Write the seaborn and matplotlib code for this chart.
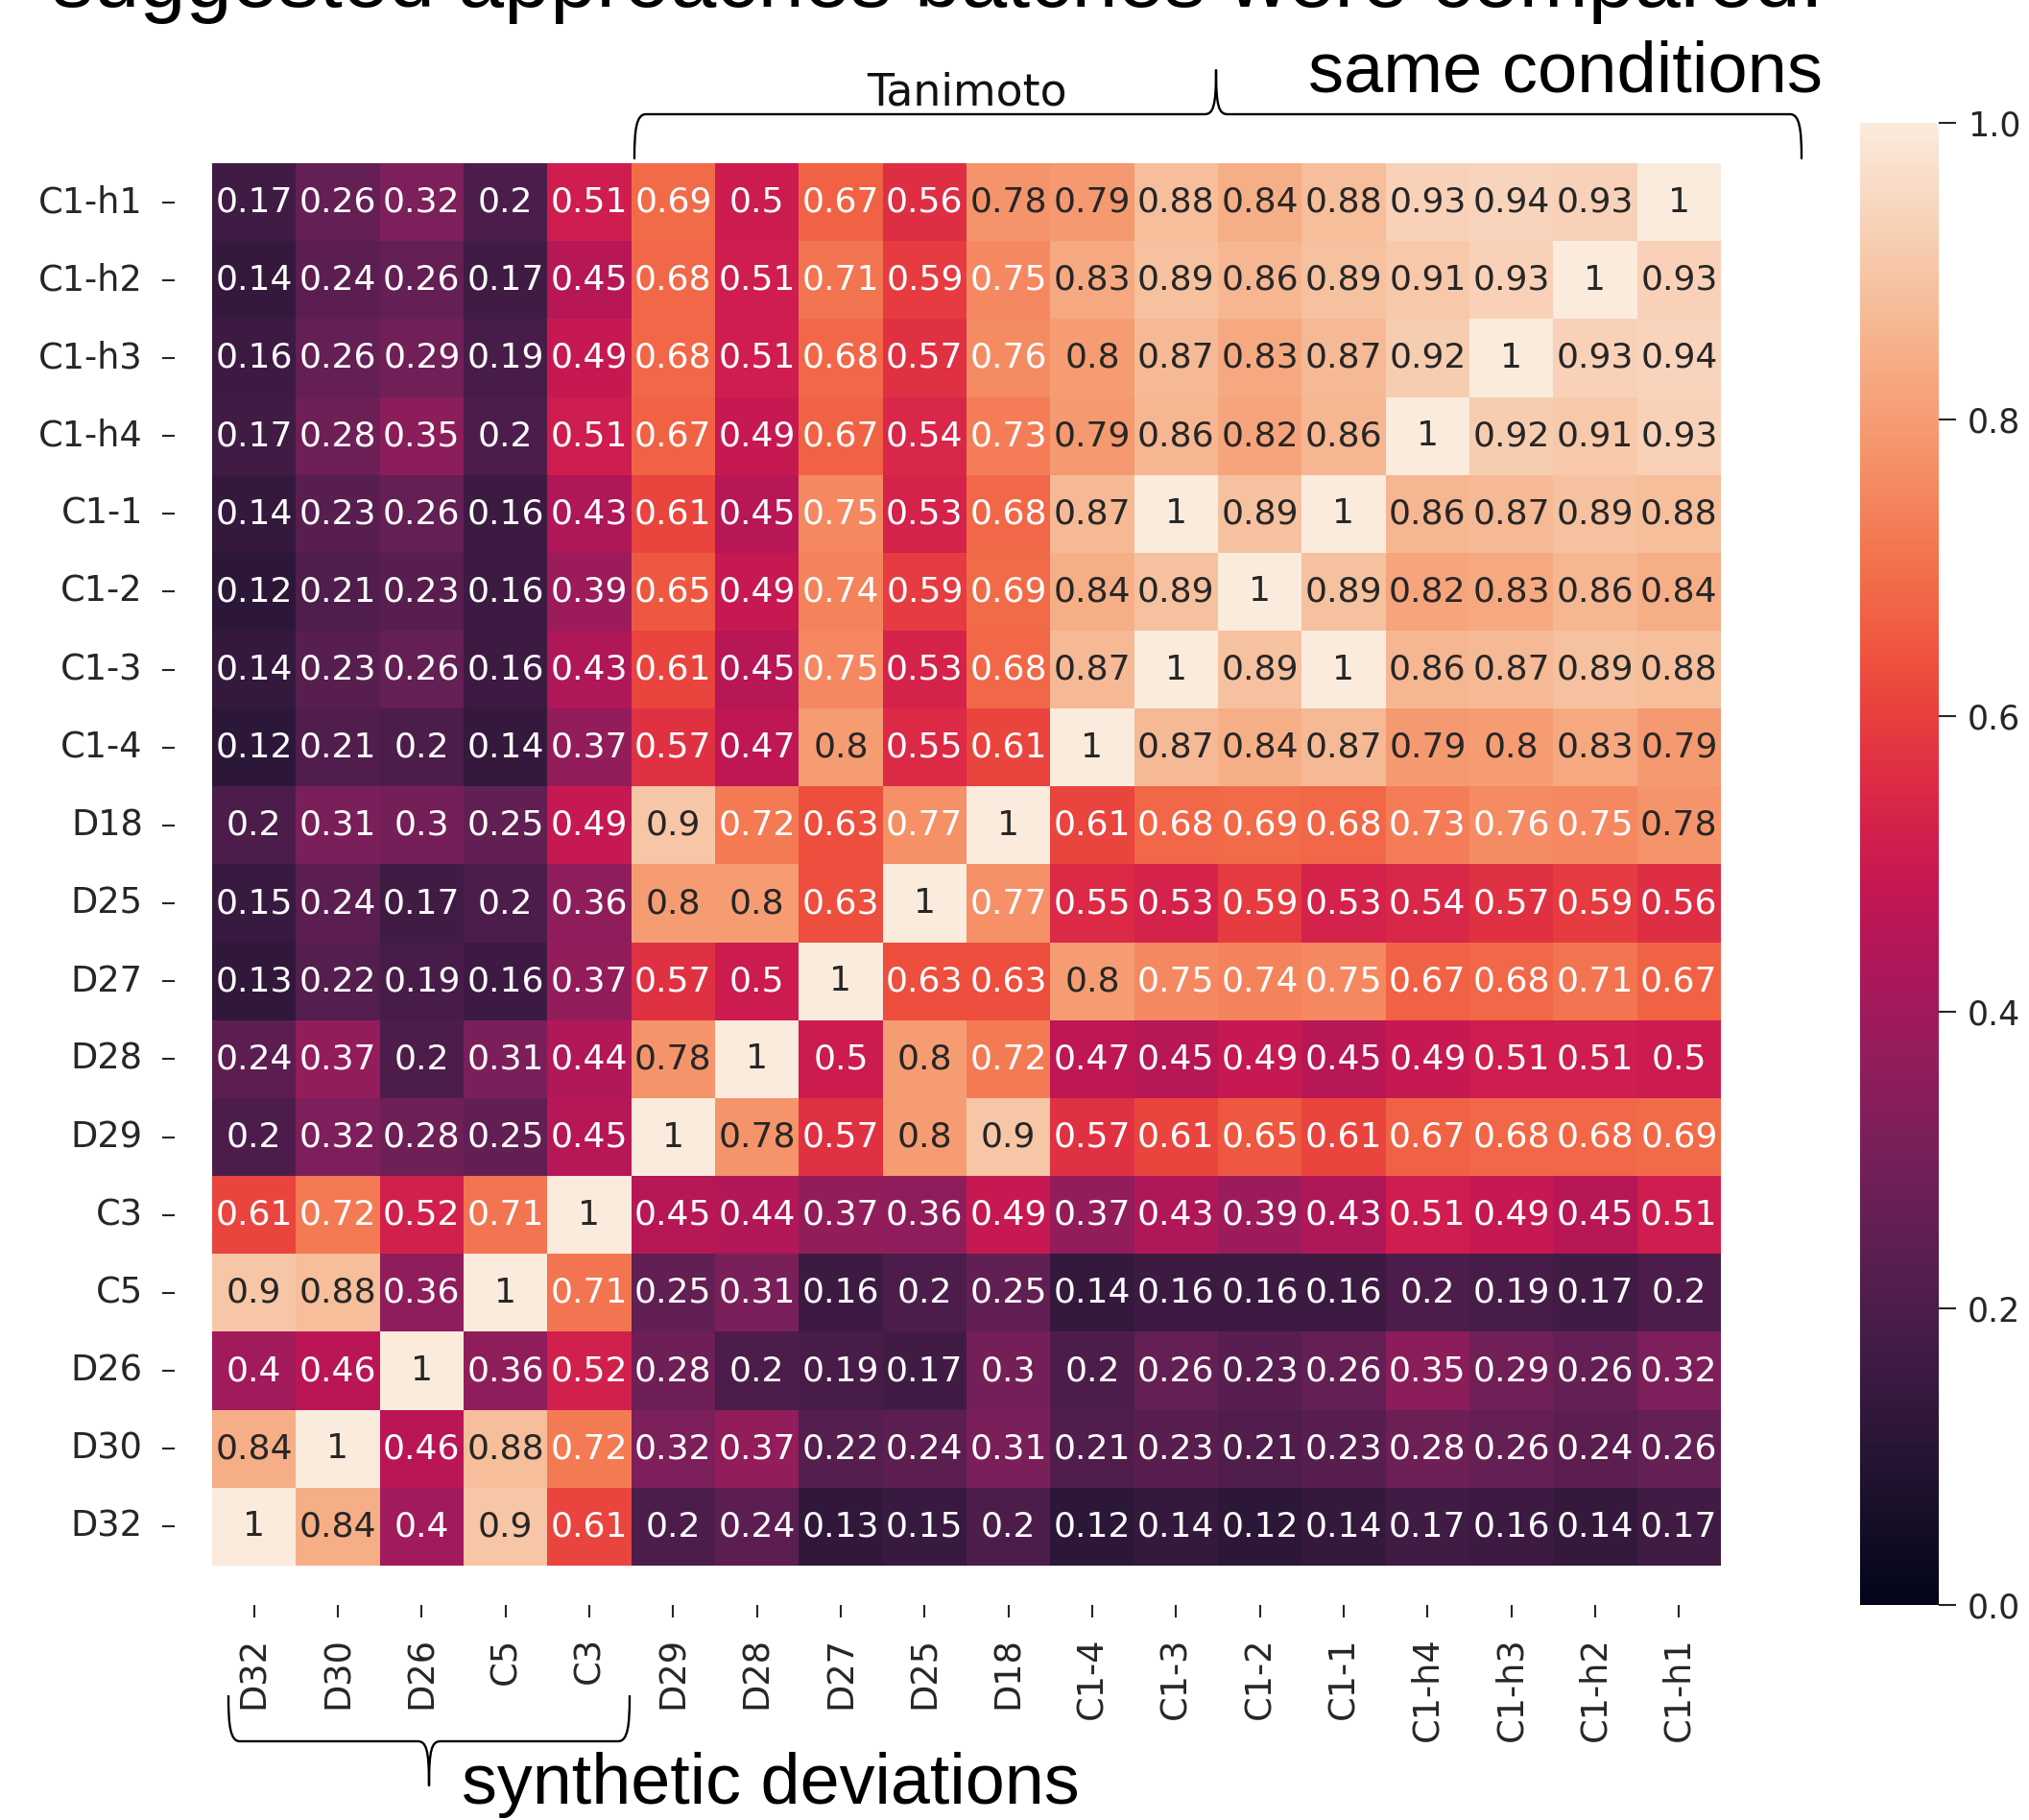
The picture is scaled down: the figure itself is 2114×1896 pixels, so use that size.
import numpy as np
import pandas as pd
import matplotlib
matplotlib.use("Agg")
import matplotlib.pyplot as plt
import seaborn as sns
from matplotlib.path import Path
from matplotlib.patches import PathPatch

# ---------------- data ----------------
row_labels = ["C1-h1", "C1-h2", "C1-h3", "C1-h4", "C1-1", "C1-2", "C1-3", "C1-4",
              "D18", "D25", "D27", "D28", "D29", "C3", "C5", "D26", "D30", "D32"]
col_labels = ["D32", "D30", "D26", "C5", "C3", "D29", "D28", "D27", "D25", "D18",
              "C1-4", "C1-3", "C1-2", "C1-1", "C1-h4", "C1-h3", "C1-h2", "C1-h1"]

similarity = [
    [0.17, 0.26, 0.32, 0.2, 0.51, 0.69, 0.5, 0.67, 0.56, 0.78, 0.79, 0.88, 0.84, 0.88, 0.93, 0.94, 0.93, 1],
    [0.14, 0.24, 0.26, 0.17, 0.45, 0.68, 0.51, 0.71, 0.59, 0.75, 0.83, 0.89, 0.86, 0.89, 0.91, 0.93, 1, 0.93],
    [0.16, 0.26, 0.29, 0.19, 0.49, 0.68, 0.51, 0.68, 0.57, 0.76, 0.8, 0.87, 0.83, 0.87, 0.92, 1, 0.93, 0.94],
    [0.17, 0.28, 0.35, 0.2, 0.51, 0.67, 0.49, 0.67, 0.54, 0.73, 0.79, 0.86, 0.82, 0.86, 1, 0.92, 0.91, 0.93],
    [0.14, 0.23, 0.26, 0.16, 0.43, 0.61, 0.45, 0.75, 0.53, 0.68, 0.87, 1, 0.89, 1, 0.86, 0.87, 0.89, 0.88],
    [0.12, 0.21, 0.23, 0.16, 0.39, 0.65, 0.49, 0.74, 0.59, 0.69, 0.84, 0.89, 1, 0.89, 0.82, 0.83, 0.86, 0.84],
    [0.14, 0.23, 0.26, 0.16, 0.43, 0.61, 0.45, 0.75, 0.53, 0.68, 0.87, 1, 0.89, 1, 0.86, 0.87, 0.89, 0.88],
    [0.12, 0.21, 0.2, 0.14, 0.37, 0.57, 0.47, 0.8, 0.55, 0.61, 1, 0.87, 0.84, 0.87, 0.79, 0.8, 0.83, 0.79],
    [0.2, 0.31, 0.3, 0.25, 0.49, 0.9, 0.72, 0.63, 0.77, 1, 0.61, 0.68, 0.69, 0.68, 0.73, 0.76, 0.75, 0.78],
    [0.15, 0.24, 0.17, 0.2, 0.36, 0.8, 0.8, 0.63, 1, 0.77, 0.55, 0.53, 0.59, 0.53, 0.54, 0.57, 0.59, 0.56],
    [0.13, 0.22, 0.19, 0.16, 0.37, 0.57, 0.5, 1, 0.63, 0.63, 0.8, 0.75, 0.74, 0.75, 0.67, 0.68, 0.71, 0.67],
    [0.24, 0.37, 0.2, 0.31, 0.44, 0.78, 1, 0.5, 0.8, 0.72, 0.47, 0.45, 0.49, 0.45, 0.49, 0.51, 0.51, 0.5],
    [0.2, 0.32, 0.28, 0.25, 0.45, 1, 0.78, 0.57, 0.8, 0.9, 0.57, 0.61, 0.65, 0.61, 0.67, 0.68, 0.68, 0.69],
    [0.61, 0.72, 0.52, 0.71, 1, 0.45, 0.44, 0.37, 0.36, 0.49, 0.37, 0.43, 0.39, 0.43, 0.51, 0.49, 0.45, 0.51],
    [0.9, 0.88, 0.36, 1, 0.71, 0.25, 0.31, 0.16, 0.2, 0.25, 0.14, 0.16, 0.16, 0.16, 0.2, 0.19, 0.17, 0.2],
    [0.4, 0.46, 1, 0.36, 0.52, 0.28, 0.2, 0.19, 0.17, 0.3, 0.2, 0.26, 0.23, 0.26, 0.35, 0.29, 0.26, 0.32],
    [0.84, 1, 0.46, 0.88, 0.72, 0.32, 0.37, 0.22, 0.24, 0.31, 0.21, 0.23, 0.21, 0.23, 0.28, 0.26, 0.24, 0.26],
    [1, 0.84, 0.4, 0.9, 0.61, 0.2, 0.24, 0.13, 0.15, 0.2, 0.12, 0.14, 0.12, 0.14, 0.17, 0.16, 0.14, 0.17],
]
cbar_ticks = [0.0, 0.2, 0.4, 0.6, 0.8, 1.0]

title_text = "suggested approaches batches were compared."
top_right_text = "same conditions"
brace_top_text = "Tanimoto"
bottom_text = "synthetic deviations"

# ---------------- figure ----------------
W, H = 2114, 1896
sns.set_theme(style="white")
plt.rcParams["font.family"] = ["DejaVu Sans"]

fig = plt.figure(figsize=(W / 100, H / 100), dpi=100)


def fx(x):
    return x / W


def fy(y):
    return 1 - y / H


ax = fig.add_axes([fx(221), fy(1631), (1793 - 221) / W, (1631 - 170) / H])
cax = fig.add_axes([fx(1938), fy(1672), (2020 - 1938) / W, (1672 - 128) / H])

df = pd.DataFrame(similarity, index=row_labels, columns=col_labels)
sns.heatmap(df, annot=True, vmin=0, vmax=1, cmap="rocket", ax=ax, cbar_ax=cax,
            annot_kws={"size": 26})

# ticks offset from the heatmap, like the reference
ax.spines["left"].set_position(("outward", 28))
ax.spines["bottom"].set_position(("outward", 29.5))
ax.tick_params(axis="both", which="major", left=True, bottom=True, length=9.5,
               width=1.5, color="0.15", pad=14.5, labelsize=26.5, labelcolor="0.15")
plt.setp(ax.get_xticklabels(), rotation=90)
plt.setp(ax.get_yticklabels(), rotation=0, va="center")
ax.set_xlabel("")
ax.set_ylabel("")

cax.set_yticks(cbar_ticks)
cax.set_yticklabels([f"{t:.1f}" for t in cbar_ticks])
cax.tick_params(axis="y", right=True, length=13, width=1.5, color="0.15", pad=8.6,
                labelsize=25, labelcolor="0.15")


# ---------------- braces ----------------
def brace(x0, x1, xm, yl, ye, yt, lw=1.7):
    s = 1 if ye > yl else -1
    c = 12
    verts = [
        (x0, ye),
        (x0, yl + s * 16), (x0 + 2, yl), (x0 + c, yl),
        (xm - 12, yl),
        (xm - 3, yl), (xm, yl - s * 8), (xm, yt),
        (xm, yl - s * 8), (xm + 3, yl), (xm + 12, yl),
        (x1 - c, yl),
        (x1 - 2, yl), (x1, yl + s * 16), (x1, ye),
    ]
    codes = [Path.MOVETO, Path.CURVE4, Path.CURVE4, Path.CURVE4, Path.LINETO,
             Path.CURVE4, Path.CURVE4, Path.CURVE4, Path.CURVE4, Path.CURVE4, Path.CURVE4,
             Path.LINETO, Path.CURVE4, Path.CURVE4, Path.CURVE4]
    verts = [(fx(x), fy(y)) for x, y in verts]
    patch = PathPatch(Path(verts, codes), transform=fig.transFigure, fill=False,
                      lw=lw, edgecolor="black", capstyle="round", joinstyle="round")
    fig.add_artist(patch)


brace(661, 1877, 1267, 119, 165, 73)
brace(238, 656, 447, 1814, 1767, 1860)

# ---------------- texts ----------------
big = ["Liberation Sans", "DejaVu Sans"]
t_title = fig.text(fx(54), fy(7), title_text, fontsize=62, family=big,
                   ha="left", va="baseline", color="black")
t_same = fig.text(fx(1363), fy(95), top_right_text, fontsize=53, family=big,
                  ha="left", va="baseline", color="black")
t_syn = fig.text(fx(481), fy(1879), bottom_text, fontsize=53, family=big,
                 ha="left", va="baseline", color="black")
t_tan = fig.text(fx(903), fy(110), brace_top_text, fontsize=32.5, family=["DejaVu Sans"],
                 ha="left", va="baseline", color="#111111")

fig.canvas.draw()
renderer = fig.canvas.get_renderer()
for t, target in [(t_title, 1846), (t_same, 536), (t_syn, 644), (t_tan, 209)]:
    w = t.get_window_extent(renderer).width
    t.set_fontsize(t.get_fontsize() * target / w)

fig.savefig("out.png", dpi=100)
